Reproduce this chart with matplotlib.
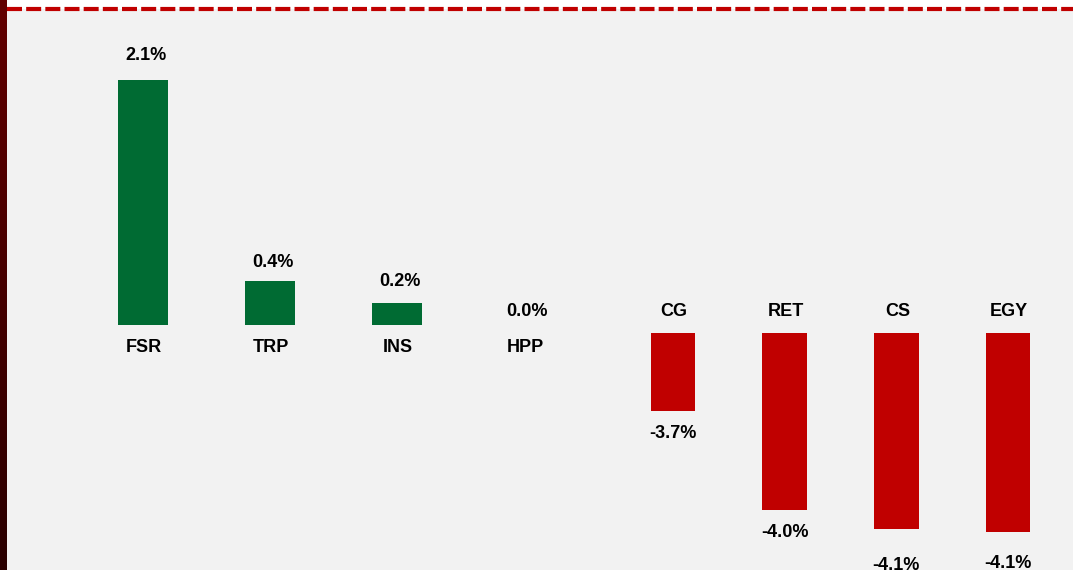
import matplotlib
matplotlib.use("Agg")
from matplotlib import pyplot as plt
from matplotlib.patches import Rectangle
from matplotlib.lines import Line2D
import numpy as np

# sectors that went up and sectors that went down (monthly change, %)
up_names = ["FSR", "TRP", "INS", "HPP"]
up_values = [2.10, 0.38, 0.19, 0.0]
down_names = ["CG", "RET", "CS", "EGY"]
down_values = [-3.70, -4.00, -4.06, -4.07]

green = "#006b33"
red = "#c00000"
W, H = 1073, 570

plt.rcParams["font.family"] = ["Liberation Sans", "DejaVu Sans"]
fig = plt.figure(figsize=(W / 100, H / 100), dpi=100, facecolor="#f2f2f2")

# white strip at the top and the dashed red rule
fig.patches.append(Rectangle((7 / W, 1 - 9 / H), 1, 9 / H, transform=fig.transFigure,
                             facecolor="white", edgecolor="none", zorder=0))
fig.lines.append(Line2D([7 / W, 1], [1 - 9 / H, 1 - 9 / H], transform=fig.transFigure,
                        color=red, linewidth=3.0, linestyle=(0, (3.6, 1.0)), zorder=2))

# dark red side bar with a vertical gradient
side = fig.add_axes([0, 0, 7 / W, 1])
side.set_zorder(3)
grad = np.linspace(0, 1, 256).reshape(-1, 1)
cmap = matplotlib.colors.LinearSegmentedColormap.from_list("side", ["#620000", "#2a0000"])
side.imshow(grad, aspect="auto", cmap=cmap, extent=[0, 1, 0, 1], origin="upper")
side.axis("off")

lab = dict(fontsize=13, fontweight="bold", color="black", ha="center", va="center")

# label offsets in pixels (the labels are not all the same distance from the bars)
up_off = [24, 18, 21, 13]
down_off = [22, 23, 36, 31]

# positive part
px = np.arange(len(up_names))
ax1 = fig.add_axes([79.5 / W, (H - 325) / H, 508 / W, 313 / H])
ax1.bar(px, up_values, width=0.394, color=green, edgecolor="none")
ax1.set_xlim(-0.5, 3.5)
ax1.set_ylim(0, 313 / 116.7)
for i, (n, v) in enumerate(zip(up_names, up_values)):
    ax1.annotate(f"{v:.1f}%", xy=(i, v), xytext=(3, up_off[i]), textcoords="offset pixels", **lab)
    ax1.annotate(n, xy=(i, 0), xytext=(1, -23), textcoords="offset pixels", **lab)

# negative part
nx = np.arange(len(down_names))
ax2 = fig.add_axes([617.2 / W, 0, 446.7 / W, (H - 333) / H])
ax2.bar(nx, down_values, width=0.40, color=red, edgecolor="none")
ax2.set_xlim(-0.5, 3.5)
ax2.set_ylim(-3.46 - 237 / 327, -3.46)
for i, (n, v) in enumerate(zip(down_names, down_values)):
    ax2.annotate(n, xy=(i, 1), xycoords=("data", "axes fraction"), xytext=(1, 22),
                 textcoords="offset pixels", **lab)
    ax2.annotate(f"{v:.1f}%", xy=(i, v), xytext=(0, -down_off[i]), textcoords="offset pixels",
                 annotation_clip=False, **lab)

for ax in (ax1, ax2):
    ax.set_facecolor("none")
    ax.axis("off")

fig.savefig("out.png", dpi=100, facecolor=fig.get_facecolor())
